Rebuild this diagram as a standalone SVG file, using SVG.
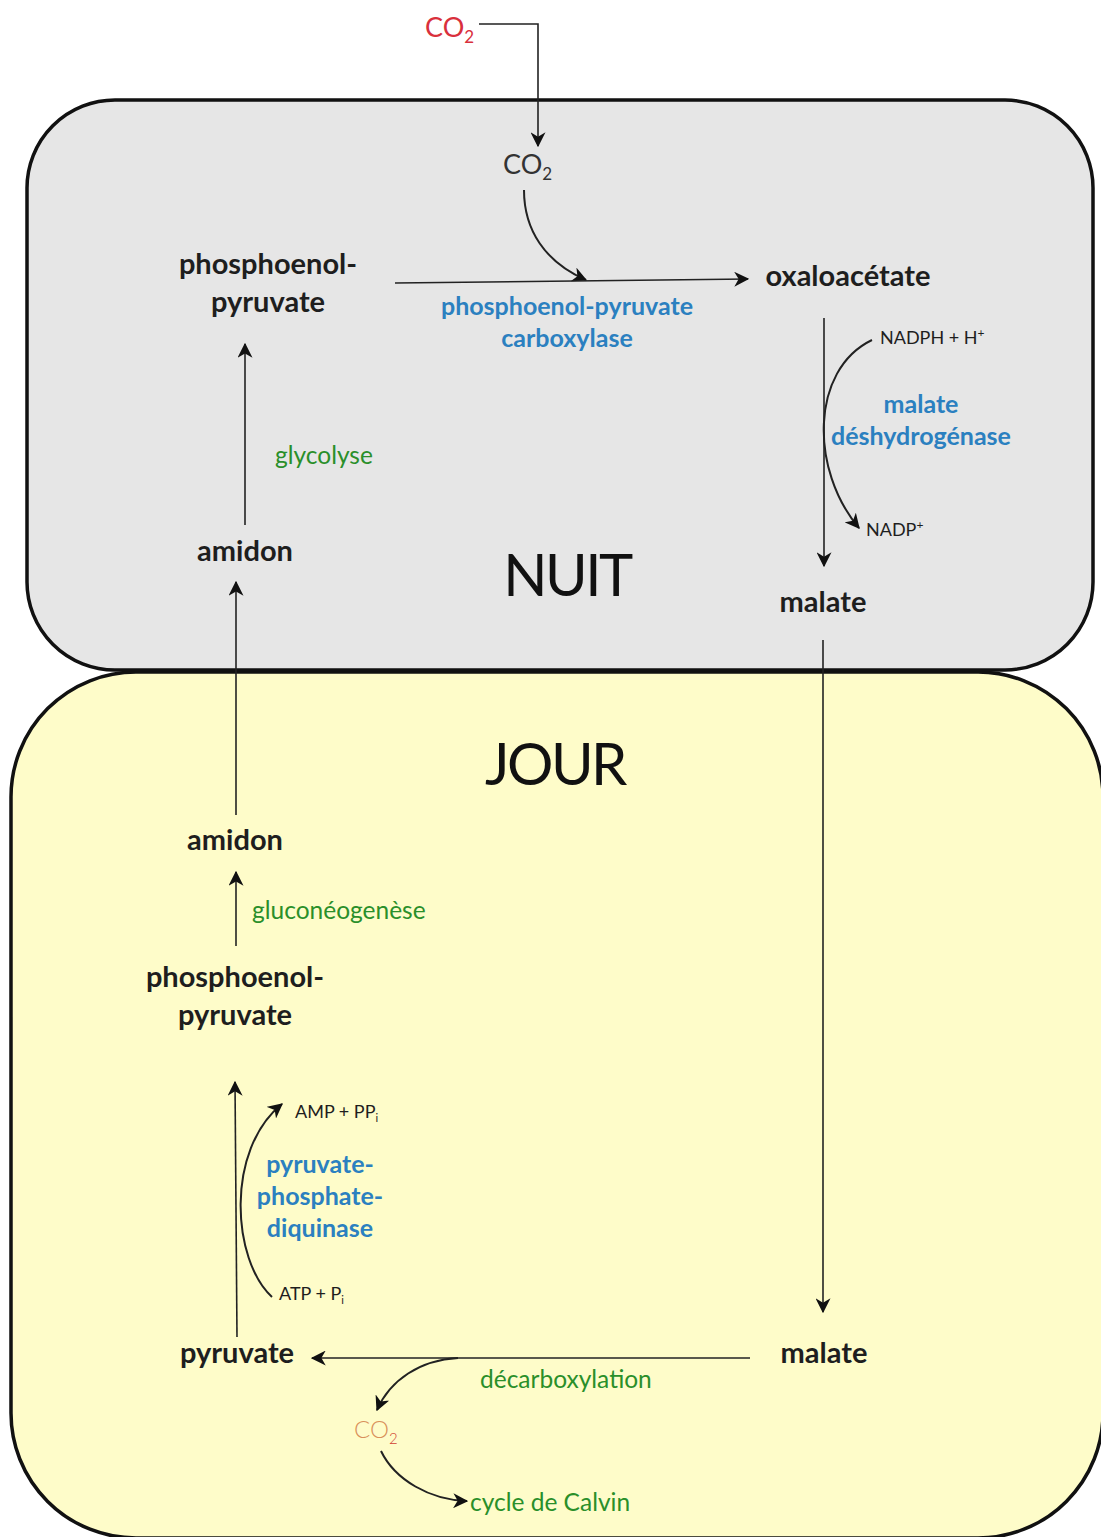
<svg xmlns="http://www.w3.org/2000/svg" width="1101" height="1537" viewBox="0 0 1101 1537">
<defs>
<marker id="ah" viewBox="0 0 12 12" refX="11" refY="6" markerWidth="15" markerHeight="15" markerUnits="userSpaceOnUse" orient="auto">
<path d="M0,0 L12,6 L0,12 L3.5,6 Z" fill="#111"/>
</marker>
<marker id="ahs" viewBox="0 0 12 12" refX="11" refY="6" markerWidth="15" markerHeight="15" markerUnits="userSpaceOnUse" orient="auto">
<path d="M0,0 L12,6 L0,12 L3.5,6 Z" fill="#111"/>
</marker>
<style>
.mol{font-family:Lato,"Open Sans",sans-serif;font-weight:bold;font-size:29px;fill:#1e1e1e;text-anchor:middle}
.enz{font-family:Lato,"Open Sans",sans-serif;font-weight:bold;font-size:25px;fill:#2b80c0;text-anchor:middle}
.proc{font-family:Lato,"Open Sans",sans-serif;font-size:24.5px;fill:#2a8f2a}
.small{font-family:Lato,"Open Sans",sans-serif;font-size:18px;fill:#1e1e1e}
.big{font-family:Lato,"Open Sans",sans-serif;font-size:58px;fill:#111;text-anchor:middle;letter-spacing:-2.5px}
.ln{stroke:#222;stroke-width:1.6;fill:none;marker-end:url(#ah)}
.cv{stroke:#222;stroke-width:2;fill:none;marker-end:url(#ahs)}
</style>
</defs>
<rect width="1101" height="1537" fill="#ffffff"/>
<g id="jour">
<rect x="11" y="672" width="1092" height="866" rx="125" ry="125" fill="#fefcc9" stroke="#111" stroke-width="3.5"/>
<text class="big" x="555" y="785">JOUR</text>
</g>
<g id="nuit">
<rect x="27" y="100" width="1066" height="570" rx="88" ry="88" fill="#e6e6e6" stroke="#111" stroke-width="3.5"/>
<text class="big" x="567" y="596">NUIT</text>
</g>
<g id="connectors">
<polyline class="ln" points="479,24 538,24 538,146"/>
<path class="cv" d="M524,190 C524,230 545,262 586,280"/>
<line class="ln" x1="395" y1="283" x2="748" y2="279"/>
<line class="ln" x1="824" y1="318" x2="824" y2="566"/>
<path class="cv" d="M872,340 C810,370 810,470 859,528"/>
<line class="ln" x1="245" y1="525" x2="245" y2="344"/>
<line class="ln" x1="236" y1="815" x2="236" y2="582"/>
<line class="ln" x1="823" y1="640" x2="823" y2="1312"/>
<line class="ln" x1="236" y1="946" x2="236" y2="872"/>
<line class="ln" x1="237" y1="1337" x2="235" y2="1082"/>
<path class="cv" d="M272,1297 C232,1260 225,1150 282,1104"/>
<line class="ln" x1="750" y1="1358" x2="312" y2="1358"/>
<path class="cv" d="M458,1358 C420,1360 390,1380 377,1410"/>
<path class="cv" d="M381,1451 C395,1480 430,1500 467,1501"/>
</g>
<g id="co2-ext"><text x="425" y="37" font-family="Lato,'Open Sans',sans-serif" font-size="27" fill="#d9303c">CO<tspan font-size="17" dy="6">2</tspan></text></g>
<g id="co2-int"><text x="503" y="174" font-family="Lato,'Open Sans',sans-serif" font-size="27" fill="#333">CO<tspan font-size="17" dy="6">2</tspan></text></g>
<g id="pep-nuit"><text class="mol" x="268" y="274">phosphoenol-</text><text class="mol" x="268" y="312">pyruvate</text></g>
<g id="oxaloacetate"><text class="mol" x="848" y="286">oxaloacétate</text></g>
<g id="pepc"><text class="enz" x="567" y="315">phosphoenol-pyruvate</text><text class="enz" x="567" y="347">carboxylase</text></g>
<g id="nadph"><text class="small" x="880" y="344">NADPH + H<tspan font-size="12" dy="-7">+</tspan></text></g>
<g id="mdh"><text class="enz" x="921" y="413">malate</text><text class="enz" x="921" y="445">déshydrogénase</text></g>
<g id="nadp"><text class="small" x="866" y="536">NADP<tspan font-size="12" dy="-7">+</tspan></text></g>
<g id="malate-nuit"><text class="mol" x="823" y="612">malate</text></g>
<g id="glycolyse"><text class="proc" x="275" y="464">glycolyse</text></g>
<g id="amidon-nuit"><text class="mol" x="245" y="561">amidon</text></g>
<g id="amidon-jour"><text class="mol" x="235" y="850">amidon</text></g>
<g id="gluconeogenese"><text class="proc" x="252" y="919">gluconéogenèse</text></g>
<g id="pep-jour"><text class="mol" x="235" y="987">phosphoenol-</text><text class="mol" x="235" y="1025">pyruvate</text></g>
<g id="amp"><text class="small" x="295" y="1118">AMP + PP<tspan font-size="11" dy="4">i</tspan></text></g>
<g id="ppdk"><text class="enz" x="320" y="1173">pyruvate-</text><text class="enz" x="320" y="1205">phosphate-</text><text class="enz" x="320" y="1237">diquinase</text></g>
<g id="atp"><text class="small" x="279" y="1300">ATP + P<tspan font-size="11" dy="4">i</tspan></text></g>
<g id="pyruvate"><text class="mol" x="237" y="1363">pyruvate</text></g>
<g id="malate-jour"><text class="mol" x="824" y="1363">malate</text></g>
<g id="decarboxylation"><text class="proc" x="480" y="1388">décarboxylation</text></g>
<g id="co2-jour"><text x="354" y="1438" font-family="Lato,'Open Sans',sans-serif" font-size="24" font-weight="300" fill="#d9905a">CO<tspan font-size="15" dy="6" fill="#d04030">2</tspan></text></g>
<g id="calvin"><text class="proc" x="470" y="1511">cycle de Calvin</text></g>
</svg>
